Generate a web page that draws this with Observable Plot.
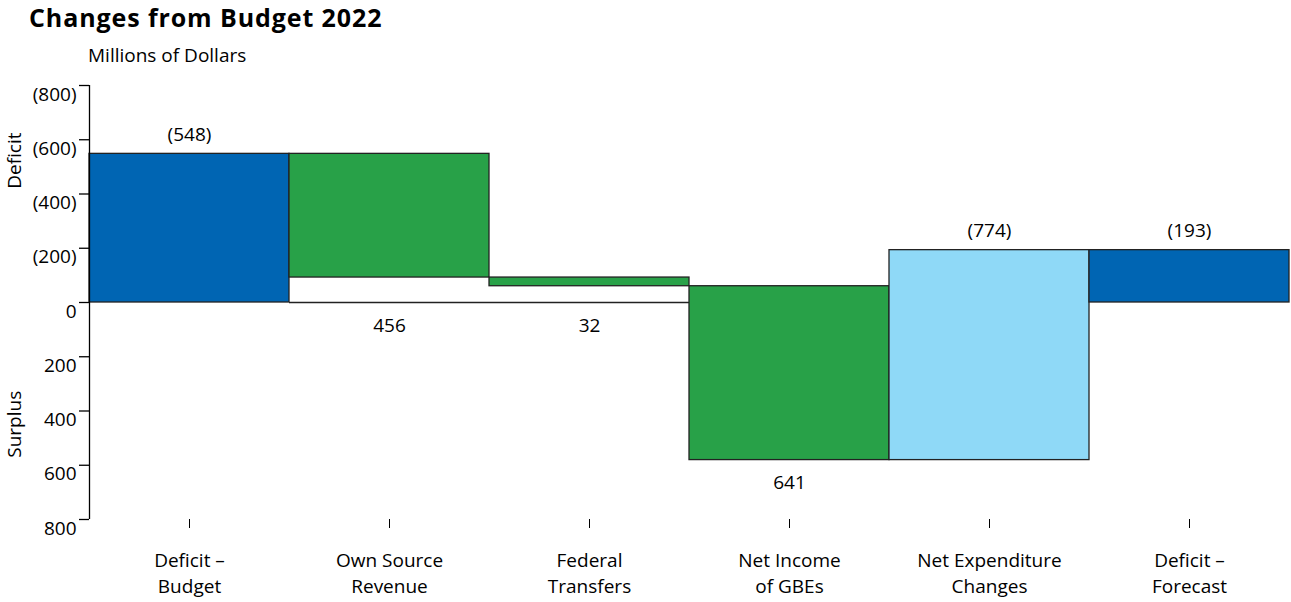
<!DOCTYPE html>
<html>
<head>
<meta charset="utf-8">
<script src="https://cdn.jsdelivr.net/npm/d3@7"></script>
<script src="https://cdn.jsdelivr.net/npm/@observablehq/plot@0.6"></script>
<style>
  body { margin: 0; background: #fff; font-family: "Open Sans", sans-serif; color: #000; }
  #wrap { position: relative; width: 1291px; height: 602px; overflow: hidden; }
  #title { position: absolute; left: 29px; top: 0px; font-size: 25px; line-height: normal; font-weight: 700; letter-spacing: 0.9px; white-space: nowrap; }
  #sub { position: absolute; left: 88px; top: 46px; font-size: 19px; line-height: 1; white-space: nowrap; }
  #chart { position: absolute; left: 0; top: 75px; }
</style>
</head>
<body>
<div id="wrap">
  <div id="title">Changes from Budget 2022</div>
  <div id="sub">Millions of Dollars</div>
  <div id="chart"></div>
</div>
<script>
// ---- data ----
const categories = ["Deficit –\nBudget", "Own Source\nRevenue", "Federal\nTransfers", "Net Income\nof GBEs", "Net Expenditure\nChanges", "Deficit –\nForecast"];
const kinds = ["total", "change", "change", "change", "change", "total"];
const values = [548, -456, -32, -641, 774, 193];   // + = deficit direction
const valueLabels = ["(548)", "456", "32", "641", "(774)", "(193)"];
const barColors = ["#0065b3", "#28a148", "#28a148", "#28a148", "#8fd9f7", "#0065b3"];
const yTicks = [-800, -600, -400, -200, 0, 200, 400, 600, 800];

// ---- build waterfall table ----
let running = 0;
const rows = categories.map((c, i) => {
  let start, end;
  if (kinds[i] === "total") { start = 0; end = values[i]; running = values[i]; }
  else { start = running; end = running + values[i]; running = end; }
  const lo = Math.min(start, end), hi = Math.max(start, end);
  const above = values[i] > 0;
  return { i, cat: c, start, end, lo, hi, color: barColors[i], label: valueLabels[i],
           labelY: above ? hi : Math.min(lo, 0), above, base: kinds[i] === "change" && lo > 0 };
});

const fontSize = 19;
const plot = Plot.plot({
  width: 1291,
  height: 527,
  marginLeft: 89,
  marginRight: 2,
  marginTop: 10,
  marginBottom: 83,
  style: { fontFamily: "'Open Sans', sans-serif", fontSize: fontSize + "px", color: "#000", background: "transparent" },
  x: { domain: [0, 6], axis: null },
  y: { domain: [-800, 800], axis: null },
  marks: [
    // base lines under floating bars
    Plot.ruleY(rows.filter(d => d.base), { y: 0, x1: d => d.i, x2: d => d.i + 1, stroke: "#222", strokeWidth: 1.3 }),
    Plot.rectY(rows, { x1: d => d.i, x2: d => d.i + 1, y1: "lo", y2: "hi", fill: "color", stroke: "#222", strokeWidth: 1.3 }),
    // value labels
    Plot.text(rows.filter(d => d.above), { x: d => d.i + 0.5, y: "labelY", text: "label", dy: -19, fontSize }),
    Plot.text(rows.filter(d => !d.above), { x: d => d.i + 0.5, y: "labelY", text: "label", dy: 23, fontSize }),
    // y axis line, ticks and labels
    Plot.ruleX([0], { y1: -800, y2: 800, stroke: "#000", strokeWidth: 1.3 }),
    Plot.axisY({ ticks: yTicks, tickSize: 10, tickFormat: () => "", strokeWidth: 1.3 }),
    Plot.axisY({ ticks: yTicks, tickSize: 0, tickPadding: 13, dy: 9, fontSize,
                 tickFormat: d => d > 0 ? `(${d})` : d < 0 ? `${-d}` : "0" }),
    // x axis
    Plot.axisX({ ticks: rows.map(d => d.i + 0.5), tickSize: 9, tickPadding: 20, fontSize, lineHeight: 26 / fontSize,
                 tickFormat: t => categories[Math.round(t - 0.5)] }),
    // side labels
    Plot.text(["Deficit"], { frameAnchor: "left", textAnchor: "middle", dx: -75, y: [523], text: d => d, rotate: -90, fontSize }),
    Plot.text(["Surplus"], { frameAnchor: "left", textAnchor: "middle", dx: -75, y: [-449], text: d => d, rotate: -90, fontSize })
  ]
});
document.getElementById("chart").appendChild(plot);
</script>
</body>
</html>
